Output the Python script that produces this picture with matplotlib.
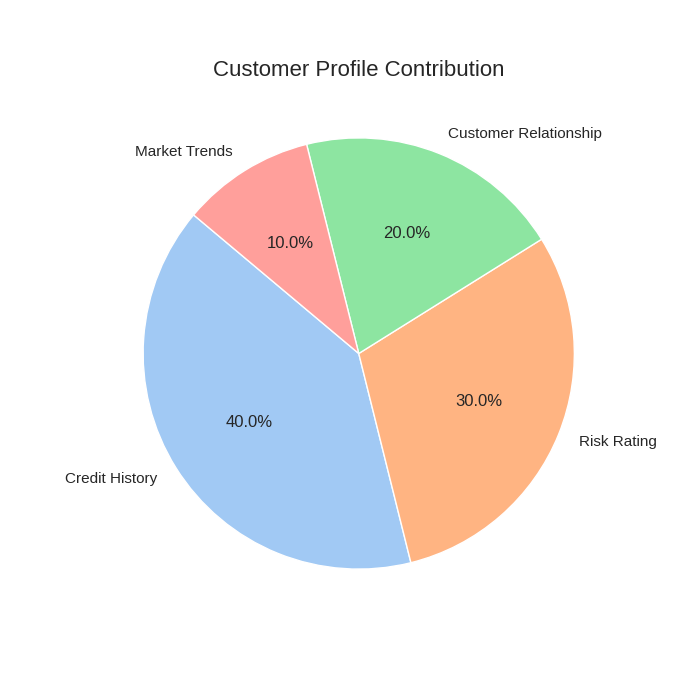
import matplotlib
matplotlib.use('Agg')
import matplotlib.pyplot as plt
import seaborn as sns

labels = ['Credit History', 'Risk Rating', 'Customer Relationship', 'Market Trends']
shares = [40, 30, 20, 10]

sns.set_theme(style='white')
plt.rcParams['font.family'] = ['Liberation Sans', 'DejaVu Sans']
colors = sns.color_palette('pastel')[:4]

fig = plt.figure(figsize=(7, 7), dpi=100)
plt.pie(shares, labels=labels, colors=colors, autopct='%1.1f%%', startangle=140,
        wedgeprops={'edgecolor': 'white'})
plt.title('Customer Profile Contribution', fontsize=16)
plt.savefig('out.png')
